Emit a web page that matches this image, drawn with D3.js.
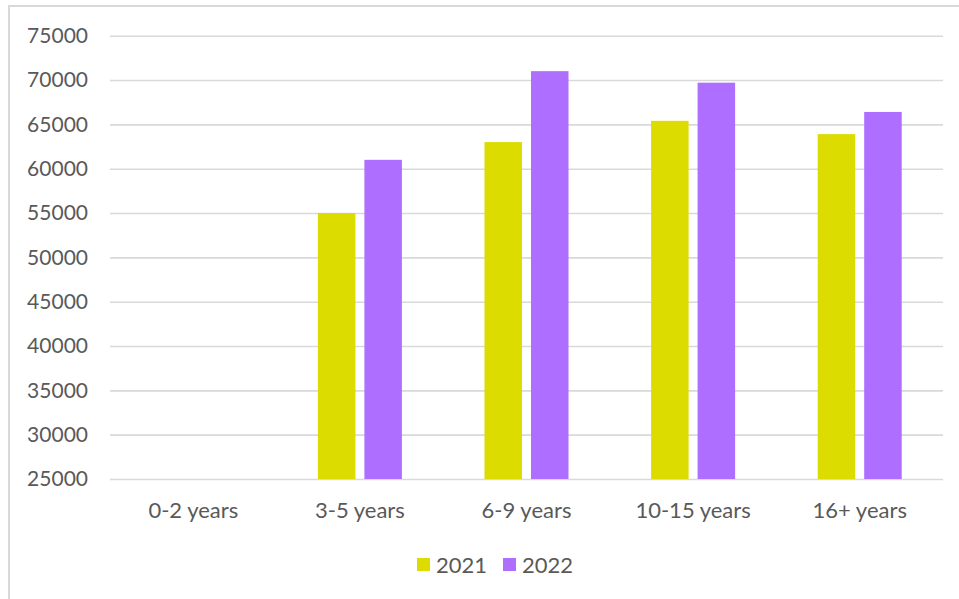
<!DOCTYPE html>
<html>
<head>
<meta charset="utf-8">
<script src="https://cdn.jsdelivr.net/npm/d3@7/dist/d3.min.js"></script>
<style>
  html, body { margin: 0; padding: 0; background: #fff; }
  svg { display: block; }
  text { font-family: Lato, "Open Sans", sans-serif; fill: #595959; }
</style>
</head>
<body>
<svg id="chart" width="959" height="599"></svg>
<script>
// Age bands and yearly values
const categories = ["0-2 years", "3-5 years", "6-9 years", "10-15 years", "16+ years"];
const seriesNames = ["2021", "2022"];
const values2021 = [null, 55000, 63000, 65400, 63900];
const values2022 = [null, 61000, 71000, 69700, 66400];
const yTicks = [25000, 30000, 35000, 40000, 45000, 50000, 55000, 60000, 65000, 70000, 75000];
const colors = ["#dcdc00", "#ae6eff"];

const svg = d3.select("#chart");
const W = 959, H = 599;
const plot = { left: 110, right: 943, top: 35.7, bottom: 479 };

// Outer frame
svg.append("rect")
  .attr("x", 9).attr("y", 6)
  .attr("width", W + 20).attr("height", H + 20)
  .attr("fill", "#fff")
  .attr("stroke", "#d9d9d9").attr("stroke-width", 2);

const x = d3.scaleBand().domain(categories).range([plot.left, plot.right]).paddingInner(0).paddingOuter(0);
const y = d3.scaleLinear().domain([25000, 75000]).range([plot.bottom, plot.top]);

// Gridlines and y labels
const yAxis = d3.axisLeft(y).tickValues(yTicks).tickFormat(d3.format("d"))
  .tickSize(-(plot.right - plot.left)).tickPadding(22);
const gy = svg.append("g").attr("transform", `translate(${plot.left},0)`).call(yAxis);
gy.select(".domain").remove();
gy.selectAll(".tick line").attr("stroke", "#d9d9d9").attr("stroke-width", 1.6);
gy.selectAll(".tick text").style("font-size", "21px").attr("fill", "#595959");

// Category labels
const xAxis = d3.axisBottom(x).tickSize(0).tickPadding(23);
const gx = svg.append("g").attr("transform", `translate(0,${plot.bottom})`).call(xAxis);
gx.select(".domain").remove();
gx.selectAll(".tick text").style("font-size", "22px").attr("fill", "#595959");

// Bars: two side-by-side columns centred in each band
const barW = 37.5, gap = 9;
const series = [values2021, values2022];
series.forEach((vals, si) => {
  svg.append("g").selectAll("rect")
    .data(categories.map((c, i) => ({ c, v: vals[i] })).filter(d => d.v != null))
    .join("rect")
    .attr("x", d => x(d.c) + x.bandwidth() / 2 - (barW * 2 + gap) / 2 + si * (barW + gap))
    .attr("y", d => y(d.v))
    .attr("width", barW)
    .attr("height", d => y(25000) - y(d.v))
    .attr("fill", colors[si]);
});

// Legend
const legend = svg.append("g");
const legendItems = [{ name: seriesNames[0], x: 417 }, { name: seriesNames[1], x: 503 }];
legendItems.forEach((it, i) => {
  legend.append("rect").attr("x", it.x).attr("y", 558).attr("width", 13).attr("height", 13).attr("fill", colors[i]);
  legend.append("text").attr("x", it.x + 19).attr("y", 565).attr("dy", "0.35em")
    .style("font-size", "22px").text(it.name);
});
</script>
</body>
</html>
